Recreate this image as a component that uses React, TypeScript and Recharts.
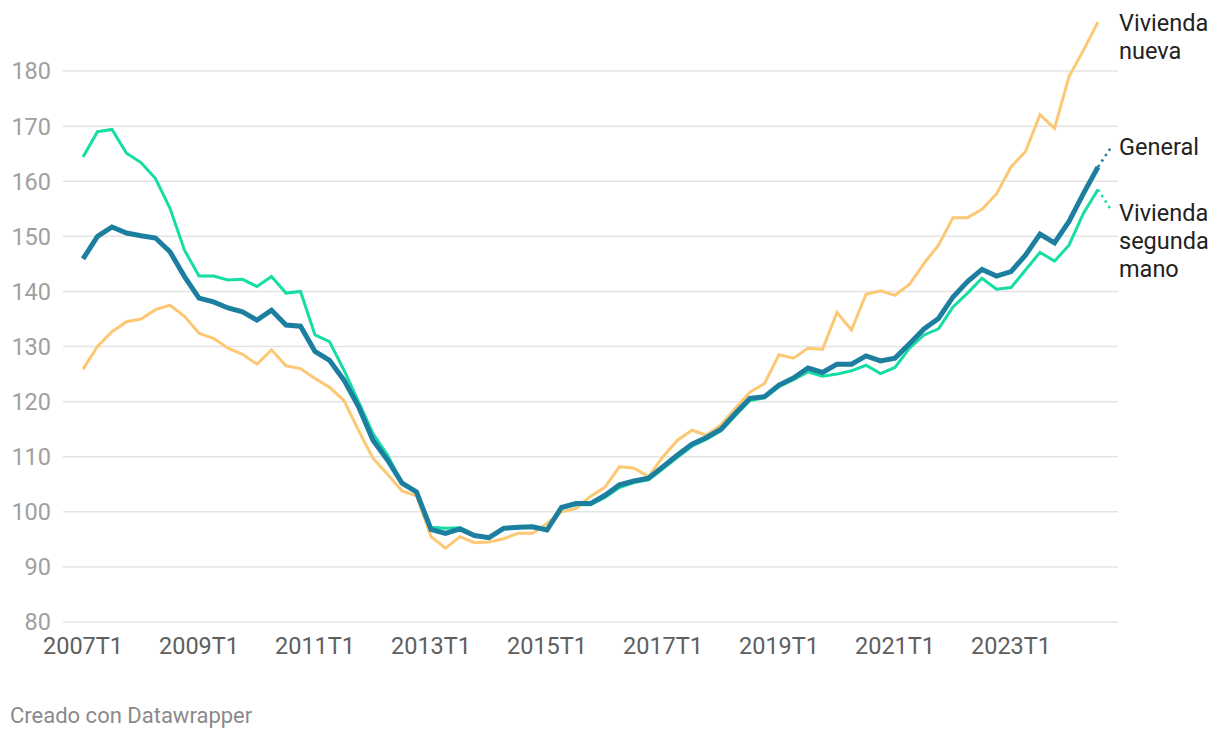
import React from 'react';
import { LineChart, Line, XAxis, YAxis, CartesianGrid } from 'recharts';

const years = [2007, 2008, 2009, 2010, 2011, 2012, 2013, 2014, 2015, 2016, 2017, 2018, 2019, 2020, 2021, 2022, 2023, 2024];

// trimestres 2007T1 .. 2024T3
const quarters: string[] = [];
years.forEach((y) => {
  [1, 2, 3, 4].forEach((q) => {
    if (y === 2024 && q === 4) return;
    quarters.push(`${y}T${q}`);
  });
});

const general = [
  145.9, 150.0, 151.7, 150.6, 150.1, 149.7, 147.2, 142.7,
  138.8, 138.1, 137.0, 136.3, 134.8, 136.6, 133.9, 133.7,
  129.1, 127.5, 123.9, 119.1, 113.0, 109.4, 105.2, 103.6,
  96.8, 96.1, 96.9, 95.7, 95.3, 97.0, 97.2, 97.3,
  96.7, 100.8, 101.5, 101.5, 103.0, 104.9, 105.6, 106.1,
  108.2, 110.3, 112.3, 113.5, 115.0, 117.9, 120.6, 120.9,
  123.0, 124.3, 126.1, 125.3, 126.8, 126.8, 128.3, 127.4,
  127.9, 130.5, 133.2, 135.1, 139.0, 141.8, 144.0, 142.8,
  143.6, 146.6, 150.4, 148.8, 152.7, 157.8, 162.6,
];

const segundaMano = [
  164.4, 169.0, 169.4, 165.1, 163.4, 160.5, 155.1, 147.5,
  142.8, 142.8, 142.1, 142.2, 140.9, 142.7, 139.7, 140.0,
  132.1, 130.9, 125.7, 120.0, 114.2, 110.3, 105.3, 103.7,
  97.2, 97.0, 97.1, 95.8, 95.4, 96.9, 97.1, 97.2,
  96.6, 100.6, 101.3, 101.3, 102.6, 104.4, 105.3, 105.8,
  107.8, 109.9, 111.9, 113.2, 114.7, 117.5, 120.2, 120.7,
  122.7, 124.0, 125.4, 124.6, 125.0, 125.6, 126.6, 125.1,
  126.2, 129.7, 132.1, 133.2, 137.2, 139.7, 142.4, 140.4,
  140.7, 143.9, 147.1, 145.5, 148.4, 154.2, 158.5,
];

const nueva = [
  125.9, 130.0, 132.7, 134.5, 135.0, 136.7, 137.5, 135.5,
  132.4, 131.5, 129.7, 128.6, 126.8, 129.4, 126.5, 126.0,
  124.2, 122.6, 120.2, 114.8, 109.7, 106.8, 103.8, 102.9,
  95.5, 93.4, 95.5, 94.4, 94.5, 95.1, 96.1, 96.1,
  97.9, 100.0, 100.6, 102.8, 104.5, 108.2, 107.9, 106.4,
  110.0, 113.0, 114.8, 113.9, 115.8, 118.8, 121.7, 123.3,
  128.5, 127.9, 129.7, 129.5, 136.2, 133.0, 139.5, 140.1,
  139.3, 141.3, 145.1, 148.4, 153.4, 153.4, 154.9, 157.7,
  162.6, 165.4, 172.1, 169.6, 179.0, 183.8, 188.9,
];

const xTicks = ['2007T1', '2009T1', '2011T1', '2013T1', '2015T1', '2017T1', '2019T1', '2021T1', '2023T1'];
const yTicks = [80, 90, 100, 110, 120, 130, 140, 150, 160, 170, 180];

const data = quarters.map((q, i) => ({
  q,
  general: general[i],
  segunda: segundaMano[i],
  nueva: nueva[i],
}));

const last = quarters.length - 1;
const FONT = 'Roboto, sans-serif';

// etiqueta al final de cada serie, con conector punteado opcional
function endLabel(lines: string[], dx: number, dy: number, color: string, dotted: boolean) {
  return (props: any) => {
    if (props.index !== last) return null;
    const { x, y } = props;
    return (
      <g key="end-label">
        {dotted && (
          <line
            x1={x}
            y1={y}
            x2={x + 14}
            y2={y + dy}
            stroke={color}
            strokeWidth={2.5}
            strokeDasharray="2.5 4"
          />
        )}
        <text x={x + dx} y={y + dy + 9} fill="#222" fontSize={23.5} fontFamily={FONT}>
          {lines.map((t, i) => (
            <tspan key={t} x={x + dx} dy={i === 0 ? 0 : 28}>
              {t}
            </tspan>
          ))}
        </text>
      </g>
    );
  };
}

export default function App() {
  return (
    <div
      style={{
        position: 'absolute',
        left: 0,
        top: 0,
        width: 1220,
        height: 738,
        background: '#fff',
        fontFamily: FONT,
      }}
    >
      <LineChart
        width={1220}
        height={680}
        data={data}
        margin={{ top: 16, right: 102, left: 0, bottom: 28 }}
      >
        <CartesianGrid
          vertical={false}
          horizontalValues={yTicks}
          stroke="#e3e3e3"
          strokeWidth={1.5}
        />
        <XAxis
          dataKey="q"
          ticks={xTicks}
          interval={0}
          padding={{ left: 20, right: 20 }}
          axisLine={false}
          tickLine={false}
          height={30}
          tickMargin={9}
          tick={{ fill: '#5e5e5e', fontSize: 23.5, fontFamily: FONT }}
        />
        <YAxis
          type="number"
          domain={[80, 190]}
          ticks={yTicks}
          width={63}
          axisLine={false}
          tickLine={false}
          tickMargin={6}
          tick={{ fill: '#a0a0a0', fontSize: 23.5, fontFamily: FONT }}
        />
        <Line
          dataKey="nueva"
          stroke="#fdc874"
          strokeWidth={3}
          dot={false}
          isAnimationActive={false}
          label={endLabel(['Vivienda', 'nueva'], 21, 0, '#fdc874', false)}
        />
        <Line
          dataKey="segunda"
          stroke="#15dda3"
          strokeWidth={3}
          dot={false}
          isAnimationActive={false}
          label={endLabel(['Vivienda', 'segunda', 'mano'], 21, 22, '#15dda3', true)}
        />
        <Line
          dataKey="general"
          stroke="#1c7f9f"
          strokeWidth={5}
          dot={false}
          isAnimationActive={false}
          label={endLabel(['General'], 21, -21, '#1c7f9f', true)}
        />
      </LineChart>
      <div
        style={{
          position: 'absolute',
          left: 10,
          top: 703,
          fontSize: 22,
          color: '#8a8a8a',
        }}
      >
        Creado con Datawrapper
      </div>
    </div>
  );
}
